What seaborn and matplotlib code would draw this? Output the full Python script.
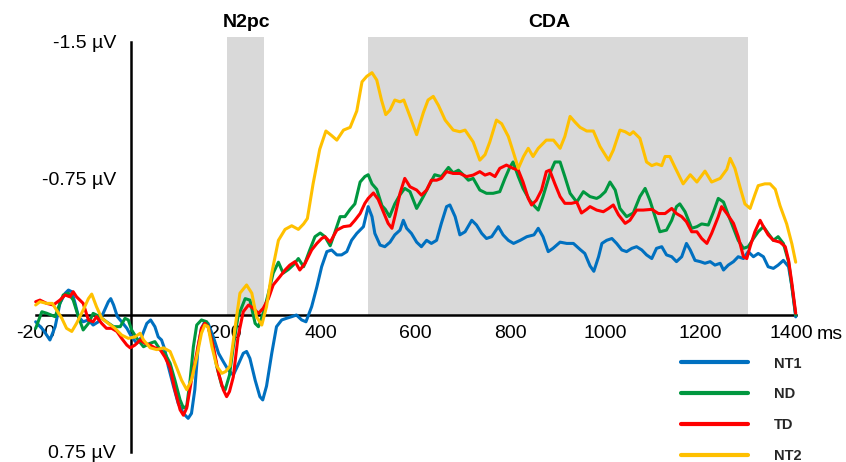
import matplotlib
matplotlib.use("Agg")
import matplotlib.pyplot as plt
import matplotlib.transforms as mtransforms
import seaborn as sns
import pandas as pd
from matplotlib.lines import Line2D

# ---------------- data ----------------
conditions = ["NT1", "ND", "TD", "NT2"]
colors = ["#0070C0", "#00973F", "#FF0000", "#FFC000"]

nt1_t = [-200, -184, -170, -159, -149, -138, -131, -124, -117, -110, -100, -89, -79, -68, -58, -47, -42, -36, -28, -19,
         -8, 2, 13, 23, 34, 42, 51, 58, 65, 72, 79, 90, 100, 111, 121, 128, 135, 142, 149, 156,
         163, 174, 185, 195, 205, 216, 226, 237, 244, 251, 262, 272, 278, 286, 297, 307, 318, 328, 339, 349,
         360, 369, 381, 392, 402, 413, 423, 434, 444, 455, 465, 476, 490, 500, 508, 514, 525, 535, 546, 556,
         567, 574, 581, 591, 602, 612, 623, 633, 644, 654, 665, 672, 683, 693, 704, 718, 728, 739, 749, 760,
         774, 784, 795, 806, 820, 834, 849, 858, 868, 879, 889, 904, 918, 932, 946, 956, 967, 975, 985, 992,
         1002, 1013, 1023, 1034, 1044, 1055, 1065, 1076, 1086, 1097, 1107, 1118, 1128, 1139, 1149, 1160, 1170, 1178, 1188, 1199,
         1209, 1220, 1230, 1241, 1248, 1258, 1269, 1279, 1290, 1300, 1311, 1321, 1332, 1342, 1353, 1363, 1374, 1385, 1392, 1400]
nt1_v = [0.037, 0.082, 0.137, 0.064, -0.064, -0.119, -0.137, -0.128, -0.064, 0.009, 0.037, 0.027, 0.055, 0.037, -0.009, -0.073, -0.09, -0.055, 0.009, 0.037,
         0.073, 0.12, 0.155, 0.12, 0.046, 0.027, 0.064, 0.12, 0.137, 0.19, 0.28, 0.39, 0.485, 0.54, 0.567, 0.54, 0.41, 0.174, 0.073, 0.037,
         0.046, 0.12, 0.21, 0.256, 0.30, 0.33, 0.274, 0.21, 0.20, 0.238, 0.357, 0.448, 0.466, 0.39, 0.21, 0.064, 0.027, 0.018, 0.009, 0.0,
         0.027, 0.037, -0.046, -0.155, -0.265, -0.348, -0.357, -0.33, -0.33, -0.348, -0.41, -0.448, -0.485, -0.595, -0.54, -0.448, -0.384, -0.375, -0.40, -0.44,
         -0.466, -0.52, -0.476, -0.448, -0.40, -0.375, -0.41, -0.393, -0.41, -0.503, -0.595, -0.604, -0.54, -0.44, -0.457, -0.52, -0.494, -0.448, -0.42, -0.43,
         -0.485, -0.44, -0.41, -0.393, -0.41, -0.43, -0.44, -0.476, -0.43, -0.348, -0.366, -0.40, -0.393, -0.393, -0.36, -0.338, -0.27, -0.24, -0.32, -0.393,
         -0.41, -0.42, -0.393, -0.357, -0.348, -0.366, -0.375, -0.357, -0.33, -0.31, -0.366, -0.375, -0.33, -0.32, -0.293, -0.32, -0.393, -0.357, -0.30, -0.293,
         -0.284, -0.293, -0.274, -0.284, -0.247, -0.274, -0.293, -0.32, -0.31, -0.348, -0.32, -0.338, -0.32, -0.265, -0.256, -0.274, -0.30, -0.265, -0.155, 0.01]

nd_t = [-200, -187, -177, -159, -149, -142, -131, -121, -110, -100, -89, -79, -65, -51, -36, -22, -12, -5, 2, 13,
        27, 41, 51, 62, 72, 83, 93, 104, 111, 118, 125, 132, 139, 149, 160, 171, 181, 192, 199, 208,
        216, 226, 241, 251, 262, 269, 279, 290, 300, 311, 321, 332, 342, 353, 364, 377, 388, 399, 409, 420,
        430, 441, 451, 462, 472, 483, 493, 500, 508, 518, 529, 536, 545, 556, 567, 577, 588, 602, 616, 630,
        640, 654, 669, 679, 690, 700, 711, 721, 735, 749, 763, 777, 788, 798, 805, 816, 826, 840, 851, 858,
        868, 884, 893, 904, 914, 925, 939, 953, 967, 981, 988, 999, 1009, 1020, 1030, 1044, 1058, 1072, 1083, 1093,
        1104, 1114, 1128, 1139, 1149, 1156, 1167, 1181, 1192, 1202, 1216, 1227, 1237, 1248, 1258, 1269, 1279, 1290, 1300, 1311,
        1321, 1332, 1342, 1353, 1363, 1374, 1385, 1395, 1400]
nd_v = [0.073, -0.018, -0.01, 0.009, -0.064, -0.11, -0.12, -0.082, 0.009, 0.082, 0.046, -0.009, 0.009, 0.037, 0.064, 0.064, 0.018, 0.027, 0.082, 0.128,
        0.174, 0.155, 0.146, 0.19, 0.21, 0.265, 0.357, 0.466, 0.51, 0.50, 0.36, 0.174, 0.055, 0.027, 0.037, 0.137, 0.28, 0.39, 0.41, 0.33,
        0.174, 0.009, -0.09, -0.082, 0.046, 0.064, -0.009, -0.12, -0.23, -0.29, -0.23, -0.25, -0.274, -0.31, -0.265, -0.357, -0.43, -0.45, -0.43, -0.38,
        -0.455, -0.54, -0.54, -0.58, -0.61, -0.73, -0.76, -0.77, -0.72, -0.69, -0.60, -0.58, -0.54, -0.61, -0.66, -0.695, -0.677, -0.585, -0.65, -0.72,
        -0.77, -0.76, -0.81, -0.78, -0.795, -0.77, -0.74, -0.75, -0.686, -0.668, -0.668, -0.677, -0.75, -0.81, -0.84, -0.76, -0.695, -0.63, -0.595, -0.576,
        -0.65, -0.787, -0.84, -0.84, -0.76, -0.668, -0.62, -0.677, -0.65, -0.64, -0.65, -0.677, -0.73, -0.686, -0.585, -0.54, -0.56, -0.65, -0.695, -0.63,
        -0.54, -0.457, -0.466, -0.52, -0.595, -0.61, -0.567, -0.476, -0.485, -0.50, -0.494, -0.567, -0.64, -0.62, -0.55, -0.476, -0.41, -0.366, -0.375, -0.42,
        -0.457, -0.485, -0.448, -0.41, -0.43, -0.393, -0.293, -0.10, 0.0]

td_t = [-200, -191, -177, -163, -149, -138, -128, -121, -114, -107, -100, -89, -79, -72, -61, -51, -40, -29, -19, -8,
        -1, 9, 20, 30, 41, 51, 62, 72, 83, 93, 104, 111, 118, 128, 139, 149, 156, 163, 174, 185,
        195, 202, 208, 216, 226, 237, 248, 258, 269, 279, 290, 300, 314, 325, 335, 346, 356, 367, 381, 392,
        402, 409, 420, 434, 448, 462, 472, 483, 493, 500, 511, 521, 532, 542, 550, 557, 567, 577, 588, 602,
        612, 623, 633, 644, 654, 665, 679, 693, 707, 721, 735, 746, 756, 767, 777, 791, 805, 816, 826, 837,
        844, 854, 865, 875, 882, 893, 904, 914, 928, 939, 949, 960, 967, 981, 995, 1006, 1016, 1027, 1041, 1051,
        1065, 1079, 1097, 1111, 1125, 1139, 1149, 1160, 1170, 1181, 1192, 1202, 1213, 1223, 1237, 1244, 1255, 1269, 1279, 1290,
        1297, 1304, 1314, 1325, 1332, 1342, 1353, 1367, 1378, 1385, 1392, 1400]
td_v = [-0.073, -0.082, -0.064, -0.055, -0.082, -0.11, -0.10, -0.128, -0.10, -0.082, -0.064, 0.027, 0.037, 0.009, 0.046, 0.073, 0.073, 0.09, 0.128, 0.165,
        0.18, 0.165, 0.137, 0.155, 0.165, 0.18, 0.19, 0.23, 0.29, 0.41, 0.52, 0.55, 0.51, 0.357, 0.21, 0.073, 0.046, 0.064, 0.174, 0.32,
        0.41, 0.448, 0.42, 0.34, 0.12, -0.018, -0.055, -0.037, -0.009, -0.037, -0.09, -0.165, -0.21, -0.247, -0.274, -0.293, -0.247, -0.283, -0.357, -0.393,
        -0.42, -0.43, -0.40, -0.466, -0.485, -0.49, -0.52, -0.557, -0.613, -0.64, -0.67, -0.635, -0.566, -0.503, -0.476, -0.55, -0.668, -0.75, -0.704, -0.686,
        -0.658, -0.686, -0.74, -0.74, -0.75, -0.787, -0.777, -0.777, -0.76, -0.768, -0.787, -0.768, -0.777, -0.76, -0.805, -0.823, -0.805, -0.795, -0.73, -0.64,
        -0.604, -0.63, -0.686, -0.787, -0.795, -0.72, -0.65, -0.613, -0.613, -0.62, -0.56, -0.58, -0.595, -0.576, -0.567, -0.585, -0.604, -0.55, -0.503, -0.52,
        -0.576, -0.576, -0.58, -0.557, -0.557, -0.585, -0.557, -0.54, -0.512, -0.457, -0.457, -0.42, -0.393, -0.448, -0.54, -0.595, -0.557, -0.503, -0.43, -0.32,
        -0.31, -0.375, -0.457, -0.52, -0.485, -0.44, -0.41, -0.40, -0.375, -0.30, -0.174, -0.01]

nt2_t = [-200, -191, -177, -165, -156, -145, -135, -124, -114, -100, -89, -82, -72, -61, -47, -33, -19, -5, 9, 20,
         27, 41, 55, 69, 83, 97, 107, 118, 128, 139, 149, 156, 163, 171, 181, 192, 200, 209, 220, 230,
         244, 255, 265, 276, 286, 297, 311, 325, 339, 353, 364, 372, 384, 398, 411, 423, 434, 448, 462, 476,
         487, 497, 508, 518, 528, 537, 546, 556, 567, 575, 588, 602, 616, 626, 637, 648, 662, 679, 693, 704,
         721, 735, 746, 756, 770, 781, 795, 806, 816, 827, 837, 847, 858, 875, 890, 904, 914, 925, 935, 946,
         960, 974, 988, 1006, 1016, 1030, 1041, 1051, 1058, 1072, 1086, 1097, 1107, 1118, 1125, 1135, 1146, 1163, 1178, 1192,
         1209, 1223, 1241, 1255, 1262, 1272, 1283, 1293, 1304, 1314, 1321, 1335, 1346, 1357, 1367, 1381, 1392, 1400]
nt2_v = [-0.055, -0.073, -0.064, -0.064, -0.027, 0.018, 0.073, 0.09, 0.046, -0.027, -0.09, -0.115, -0.046, 0.018, 0.046, 0.073, 0.11, 0.128, 0.12, 0.10,
         0.137, 0.18, 0.19, 0.18, 0.20, 0.29, 0.357, 0.41, 0.357, 0.23, 0.10, 0.055, 0.064, 0.174, 0.28, 0.32, 0.31, 0.28, 0.064, -0.12,
         -0.165, -0.12, 0.01, 0.055, -0.046, -0.23, -0.41, -0.47, -0.49, -0.47, -0.50, -0.53, -0.72, -0.91, -1.01, -0.985, -0.96, -1.015, -1.03, -1.12,
         -1.28, -1.31, -1.33, -1.29, -1.18, -1.10, -1.125, -1.18, -1.17, -1.18, -1.09, -0.99, -1.11, -1.18, -1.20, -1.15, -1.07, -1.015, -1.006, -1.015,
         -0.95, -0.85, -0.88, -0.95, -1.07, -1.05, -0.98, -0.89, -0.805, -0.87, -0.915, -0.87, -0.915, -0.96, -0.96, -0.915, -0.98, -1.09, -1.06, -1.03,
         -1.01, -1.01, -0.925, -0.85, -0.905, -1.015, -1.006, -0.99, -1.006, -0.97, -0.84, -0.82, -0.83, -0.82, -0.87, -0.87, -0.81, -0.72, -0.77, -0.73,
         -0.79, -0.73, -0.75, -0.80, -0.86, -0.805, -0.70, -0.61, -0.585, -0.66, -0.71, -0.72, -0.72, -0.69, -0.60, -0.50, -0.39, -0.29]

windows = [(203, 281), (500, 1300)]
window_names = ["N2pc", "CDA"]
window_label_x = [243, 881]

x_ticks = [-200, 200, 400, 600, 800, 1000, 1200, 1400]
x_tick_labels = ["-200", "200", "400", "600", "800", "1000", "1200", "1400"]
y_ticks = [-1.5, -0.75, 0.75]
y_tick_labels = ["-1.5 µV", "-0.75 µV", "0.75 µV"]

# ---------------- build long-form table ----------------
frames = []
for name, t, v in zip(conditions, [nt1_t, nd_t, td_t, nt2_t], [nt1_v, nd_v, td_v, nt2_v]):
    frames.append(pd.DataFrame({"time": t, "amp": v, "cond": name}))
df = pd.concat(frames, ignore_index=True)

# ---------------- figure ----------------
sns.set_theme(style="white")
plt.rcParams["font.family"] = ["Liberation Sans", "DejaVu Sans"]

fig = plt.figure(figsize=(8.46, 4.62), dpi=100)
ax = fig.add_axes([0.03936, 0.0184, 0.9040, 0.9110])

shade_top = -1.527
for (x0, x1) in windows:
    ax.fill_between([x0, x1], [0, 0], [shade_top, shade_top], color="#D9D9D9", lw=0, zorder=0)

sns.lineplot(data=df, x="time", y="amp", hue="cond", hue_order=conditions,
             palette=colors, estimator=None, sort=False, linewidth=2.2,
             legend=False, ax=ax, zorder=3)

ax.set_xlim(-205, 1405)
ax.set_ylim(0.76, -1.55)
ax.set_xlabel("")
ax.set_ylabel("")

for s in ["top", "right"]:
    ax.spines[s].set_visible(False)
ax.spines["left"].set_position(("data", 0))
ax.spines["bottom"].set_position(("data", 0))
ax.spines["left"].set_bounds(-1.5, 0.75)
ax.spines["bottom"].set_bounds(-200, 1400)
for s in ["left", "bottom"]:
    ax.spines[s].set_color("black")
    ax.spines[s].set_linewidth(1.8)
    ax.spines[s].set_zorder(2)

ax.set_xticks(x_ticks)
ax.set_xticklabels(x_tick_labels)
ax.set_yticks(y_ticks)
ax.set_yticklabels(y_tick_labels)
ax.tick_params(axis="both", direction="inout", length=7, width=1.8, color="black",
               labelsize=14, labelcolor="black")
ax.tick_params(axis="x", pad=4)
ax.tick_params(axis="y", pad=7)
ax.grid(False)

# nudge the last tick label a little left to leave room for the unit
last_lbl = ax.get_xticklabels()[-1]
last_lbl.set_transform(last_lbl.get_transform() +
                       mtransforms.ScaledTranslation(-4 / 100, 0, fig.dpi_scale_trans))

# unit after the last x tick
ax.text(1445, 0.105, "ms", fontsize=14, ha="left", va="center", color="black")

for name, xc in zip(window_names, window_label_x):
    ax.text(xc, -1.603, name, fontsize=14, fontweight="bold", ha="center", va="center", color="black")

handles = [Line2D([], [], color=c, lw=3.0) for c in colors]
fig.legend(handles, conditions, loc="upper left", bbox_to_anchor=(681 / 846, 1 - 356.5 / 462),
           frameon=False, prop={"weight": "bold", "size": 10.5}, handlelength=4.6,
           handletextpad=1.8, labelspacing=1.16, borderpad=0, borderaxespad=0)

fig.savefig("out.png", dpi=100)
